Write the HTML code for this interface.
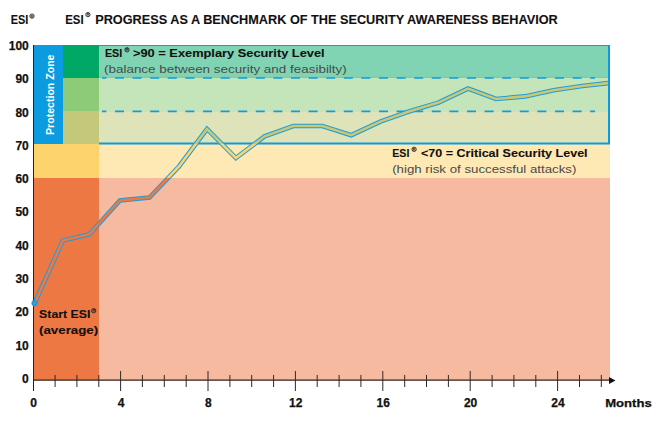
<!DOCTYPE html>
<html><head><meta charset="utf-8"><style>
html,body{margin:0;padding:0;background:#fff;width:661px;height:422px;overflow:hidden}
svg{display:block}
text{font-family:"Liberation Sans", sans-serif}
</style></head><body>
<svg width="661" height="422" viewBox="0 0 661 422">
<defs>
<clipPath id="cOr"><rect x="0" y="178" width="661" height="422"/></clipPath>
<clipPath id="cYe"><rect x="0" y="144" width="661" height="34"/></clipPath>
<clipPath id="cKh"><rect x="0" y="0" width="661" height="144"/></clipPath>
<clipPath id="cPlot"><rect x="30" y="0" width="578" height="422"/></clipPath>
</defs>

<rect x="99" y="45" width="511" height="33" fill="#80D4B3"/>
<rect x="99" y="78" width="511" height="33" fill="#C4E4BA"/>
<rect x="99" y="111" width="511" height="33" fill="#DEE3BA"/>
<rect x="99" y="144" width="511" height="34" fill="#FEE8B4"/>
<rect x="99" y="178" width="511" height="202" fill="#F6BAA0"/>
<rect x="63" y="45" width="36" height="33" fill="#00A865"/>
<rect x="63" y="78" width="36" height="33" fill="#8DCB78"/>
<rect x="63" y="111" width="36" height="33" fill="#C3C87A"/>
<rect x="34" y="144" width="65" height="34" fill="#FDD36B"/>
<rect x="34" y="178" width="65" height="202" fill="#EE7844"/>
<rect x="34" y="45" width="29" height="99" fill="#0A9BE0"/>
<path d="M99 45.5 H609 V143.5 H99" fill="none" stroke="#0A9BE0" stroke-width="1"/>
<rect x="608" y="45" width="2" height="99" fill="#0A9BE0"/>
<rect x="99" y="142.5" width="511" height="2" fill="#0A9BE0"/>
<rect x="99" y="110.8" width="509" height="1.2" fill="#D6D9C6"/>
<rect x="99" y="76.8" width="509" height="1" fill="#72CEA8"/>
<line x1="102" y1="78" x2="595" y2="78" stroke="#139CDD" stroke-width="1.7" stroke-dasharray="9 8.6" stroke-dashoffset="4.6"/>
<line x1="102" y1="111.3" x2="595" y2="111.3" stroke="#139CDD" stroke-width="1.7" stroke-dasharray="9 8.6" stroke-dashoffset="4.6"/>
<g clip-path="url(#cPlot)" fill="none" stroke-linejoin="miter" stroke-linecap="butt">
<polyline points="34.6,303.2 62.8,240.6 89.5,234.2 119.9,200.4 149.5,197.5 179.0,166.5 207.0,129.0 235.9,158.0 264.6,136.3 293.3,126.0 322.4,126.0 351.3,135.2 380.3,121.6 408.9,111.5 438.5,102.6 468.0,88.6 496.0,99.0 525.0,96.4 553.5,90.2 582.3,86.0 611.2,82.8" stroke="#1E9DDA" stroke-width="4.6"/>
<polyline points="34.6,303.2 62.8,240.6 89.5,234.2 119.9,200.4 149.5,197.5 179.0,166.5 207.0,129.0 235.9,158.0 264.6,136.3 293.3,126.0 322.4,126.0 351.3,135.2 380.3,121.6 408.9,111.5 438.5,102.6 468.0,88.6 496.0,99.0 525.0,96.4 553.5,90.2 582.3,86.0 611.2,82.8" stroke="#EE7844" stroke-width="2.6" clip-path="url(#cOr)"/>
<polyline points="34.6,303.2 62.8,240.6 89.5,234.2 119.9,200.4 149.5,197.5 179.0,166.5 207.0,129.0 235.9,158.0 264.6,136.3 293.3,126.0 322.4,126.0 351.3,135.2 380.3,121.6 408.9,111.5 438.5,102.6 468.0,88.6 496.0,99.0 525.0,96.4 553.5,90.2 582.3,86.0 611.2,82.8" stroke="#FDD36B" stroke-width="2.6" clip-path="url(#cYe)"/>
<polyline points="34.6,303.2 62.8,240.6 89.5,234.2 119.9,200.4 149.5,197.5 179.0,166.5 207.0,129.0 235.9,158.0 264.6,136.3 293.3,126.0 322.4,126.0 351.3,135.2 380.3,121.6 408.9,111.5 438.5,102.6 468.0,88.6 496.0,99.0 525.0,96.4 553.5,90.2 582.3,86.0 611.2,82.8" stroke="#CBC873" stroke-width="2.6" clip-path="url(#cKh)"/>
</g>
<line x1="33.5" y1="45" x2="33.5" y2="391" stroke="#222" stroke-width="1"/>
<line x1="33.2" y1="380.2" x2="610" y2="380.2" stroke="#3a1e14" stroke-width="1.2"/>
<path d="M609 377 L615.5 380.5 L609 384 Z" fill="#111"/>
<line x1="55.1" y1="375" x2="55.1" y2="387" stroke="#2b2b2b" stroke-width="1"/>
<line x1="76.9" y1="375" x2="76.9" y2="387" stroke="#2b2b2b" stroke-width="1"/>
<line x1="98.8" y1="375" x2="98.8" y2="387" stroke="#2b2b2b" stroke-width="1"/>
<line x1="120.6" y1="371" x2="120.6" y2="391" stroke="#2b2b2b" stroke-width="1"/>
<line x1="142.4" y1="375" x2="142.4" y2="387" stroke="#2b2b2b" stroke-width="1"/>
<line x1="164.3" y1="375" x2="164.3" y2="387" stroke="#2b2b2b" stroke-width="1"/>
<line x1="186.2" y1="375" x2="186.2" y2="387" stroke="#2b2b2b" stroke-width="1"/>
<line x1="208.0" y1="371" x2="208.0" y2="391" stroke="#2b2b2b" stroke-width="1"/>
<line x1="229.9" y1="375" x2="229.9" y2="387" stroke="#2b2b2b" stroke-width="1"/>
<line x1="251.7" y1="375" x2="251.7" y2="387" stroke="#2b2b2b" stroke-width="1"/>
<line x1="273.6" y1="375" x2="273.6" y2="387" stroke="#2b2b2b" stroke-width="1"/>
<line x1="295.4" y1="371" x2="295.4" y2="391" stroke="#2b2b2b" stroke-width="1"/>
<line x1="317.2" y1="375" x2="317.2" y2="387" stroke="#2b2b2b" stroke-width="1"/>
<line x1="339.1" y1="375" x2="339.1" y2="387" stroke="#2b2b2b" stroke-width="1"/>
<line x1="360.9" y1="375" x2="360.9" y2="387" stroke="#2b2b2b" stroke-width="1"/>
<line x1="382.8" y1="371" x2="382.8" y2="391" stroke="#2b2b2b" stroke-width="1"/>
<line x1="404.7" y1="375" x2="404.7" y2="387" stroke="#2b2b2b" stroke-width="1"/>
<line x1="426.5" y1="375" x2="426.5" y2="387" stroke="#2b2b2b" stroke-width="1"/>
<line x1="448.4" y1="375" x2="448.4" y2="387" stroke="#2b2b2b" stroke-width="1"/>
<line x1="470.2" y1="371" x2="470.2" y2="391" stroke="#2b2b2b" stroke-width="1"/>
<line x1="492.1" y1="375" x2="492.1" y2="387" stroke="#2b2b2b" stroke-width="1"/>
<line x1="513.9" y1="375" x2="513.9" y2="387" stroke="#2b2b2b" stroke-width="1"/>
<line x1="535.8" y1="375" x2="535.8" y2="387" stroke="#2b2b2b" stroke-width="1"/>
<line x1="557.6" y1="371" x2="557.6" y2="391" stroke="#2b2b2b" stroke-width="1"/>
<line x1="579.5" y1="375" x2="579.5" y2="387" stroke="#2b2b2b" stroke-width="1"/>
<line x1="601.3" y1="375" x2="601.3" y2="387" stroke="#2b2b2b" stroke-width="1"/>
<circle cx="34.6" cy="303.2" r="3.1" fill="#1E9DDA"/><circle cx="34.6" cy="303.2" r="0.8" fill="#EE7844"/>
<text x="28.8" y="382.8" text-anchor="end" font-size="12" font-weight="bold" fill="#111" stroke="#111" stroke-width="0.25">0</text>
<text x="28.8" y="349.5" text-anchor="end" font-size="12" font-weight="bold" fill="#111" stroke="#111" stroke-width="0.25">10</text>
<text x="28.8" y="316.2" text-anchor="end" font-size="12" font-weight="bold" fill="#111" stroke="#111" stroke-width="0.25">20</text>
<text x="28.8" y="282.9" text-anchor="end" font-size="12" font-weight="bold" fill="#111" stroke="#111" stroke-width="0.25">30</text>
<text x="28.8" y="249.6" text-anchor="end" font-size="12" font-weight="bold" fill="#111" stroke="#111" stroke-width="0.25">40</text>
<text x="28.8" y="216.3" text-anchor="end" font-size="12" font-weight="bold" fill="#111" stroke="#111" stroke-width="0.25">50</text>
<text x="28.8" y="183.1" text-anchor="end" font-size="12" font-weight="bold" fill="#111" stroke="#111" stroke-width="0.25">60</text>
<text x="28.8" y="149.8" text-anchor="end" font-size="12" font-weight="bold" fill="#111" stroke="#111" stroke-width="0.25">70</text>
<text x="28.8" y="116.5" text-anchor="end" font-size="12" font-weight="bold" fill="#111" stroke="#111" stroke-width="0.25">80</text>
<text x="28.8" y="83.2" text-anchor="end" font-size="12" font-weight="bold" fill="#111" stroke="#111" stroke-width="0.25">90</text>
<text x="28.8" y="49.9" text-anchor="end" font-size="12" font-weight="bold" fill="#111" stroke="#111" stroke-width="0.25">100</text>
<text x="33.6" y="407.1" text-anchor="middle" font-size="12" font-weight="bold" fill="#111" stroke="#111" stroke-width="0.25">0</text>
<text x="121.0" y="407.1" text-anchor="middle" font-size="12" font-weight="bold" fill="#111" stroke="#111" stroke-width="0.25">4</text>
<text x="208.4" y="407.1" text-anchor="middle" font-size="12" font-weight="bold" fill="#111" stroke="#111" stroke-width="0.25">8</text>
<text x="295.8" y="407.1" text-anchor="middle" font-size="12" font-weight="bold" fill="#111" stroke="#111" stroke-width="0.25">12</text>
<text x="383.2" y="407.1" text-anchor="middle" font-size="12" font-weight="bold" fill="#111" stroke="#111" stroke-width="0.25">16</text>
<text x="470.6" y="407.1" text-anchor="middle" font-size="12" font-weight="bold" fill="#111" stroke="#111" stroke-width="0.25">20</text>
<text x="558.0" y="407.1" text-anchor="middle" font-size="12" font-weight="bold" fill="#111" stroke="#111" stroke-width="0.25">24</text>
<text x="605.2" y="407.3" font-size="11.5" font-weight="bold" fill="#111" stroke="#111" stroke-width="0.25" textLength="46.6" lengthAdjust="spacingAndGlyphs">Months</text>
<text x="10.8" y="24.2" font-size="12" font-weight="bold" fill="#111" stroke="#111" stroke-width="0.1" textLength="17.6" lengthAdjust="spacingAndGlyphs">ESI</text>
<circle cx="32" cy="16.1" r="2.15" fill="none" stroke="#222" stroke-width="0.9"/>
<text x="32" y="17.55" text-anchor="middle" font-size="4.2" font-weight="bold" fill="#222">R</text>
<text x="65.2" y="23.6" font-size="12" font-weight="bold" fill="#111" stroke="#111" stroke-width="0.1" textLength="18.4" lengthAdjust="spacingAndGlyphs">ESI</text>
<circle cx="87.9" cy="14.6" r="2.15" fill="none" stroke="#222" stroke-width="0.9"/>
<text x="87.9" y="16.05" text-anchor="middle" font-size="4.2" font-weight="bold" fill="#222">R</text>
<text x="95.2" y="23.6" font-size="12" font-weight="bold" fill="#111" stroke="#111" stroke-width="0.1" textLength="462.6" lengthAdjust="spacingAndGlyphs">PROGRESS AS A BENCHMARK OF THE SECURITY AWARENESS BEHAVIOR</text>
<text transform="translate(53.6,135) rotate(-90)" font-size="10.5" font-weight="bold" fill="#fff" textLength="80.5" lengthAdjust="spacingAndGlyphs">Protection Zone</text>
<text x="104.9" y="57.0" font-size="11.2" font-weight="bold" fill="#111" stroke="#111" stroke-width="0.1" textLength="17.3" lengthAdjust="spacingAndGlyphs">ESI</text>
<circle cx="127" cy="49.8" r="2.15" fill="none" stroke="#222" stroke-width="0.9"/>
<text x="127" y="51.25" text-anchor="middle" font-size="4.2" font-weight="bold" fill="#222">R</text>
<text x="133.0" y="57.0" font-size="11.2" font-weight="bold" fill="#111" stroke="#111" stroke-width="0.1" textLength="191.6" lengthAdjust="spacingAndGlyphs">&gt;90 = Exemplary Security Level</text>
<text x="104.0" y="72.8" font-size="11" fill="#4a4a4a" textLength="242.8" lengthAdjust="spacingAndGlyphs">(balance between security and feasibilty)</text>
<text x="392.3" y="156.9" font-size="11.2" font-weight="bold" fill="#111" stroke="#111" stroke-width="0.1" textLength="17.1" lengthAdjust="spacingAndGlyphs">ESI</text>
<circle cx="414.1" cy="149.3" r="2.15" fill="none" stroke="#222" stroke-width="0.9"/>
<text x="414.1" y="150.75" text-anchor="middle" font-size="4.2" font-weight="bold" fill="#222">R</text>
<text x="421.0" y="156.9" font-size="11.2" font-weight="bold" fill="#111" stroke="#111" stroke-width="0.1" textLength="166.6" lengthAdjust="spacingAndGlyphs">&lt;70 = Critical Security Level</text>
<text x="392.2" y="172.8" font-size="11" fill="#4a4a4a" textLength="184.2" lengthAdjust="spacingAndGlyphs">(high risk of successful attacks)</text>
<text x="39.1" y="318" font-size="11.5" font-weight="bold" fill="#111" stroke="#111" stroke-width="0.1" textLength="51.3" lengthAdjust="spacingAndGlyphs">Start ESI</text>
<circle cx="93.7" cy="310.7" r="2.15" fill="none" stroke="#222" stroke-width="0.9"/>
<text x="93.7" y="312.15" text-anchor="middle" font-size="4.2" font-weight="bold" fill="#222">R</text>
<text x="39" y="333.6" font-size="11.5" font-weight="bold" fill="#111" stroke="#111" stroke-width="0.1" textLength="59.2" lengthAdjust="spacingAndGlyphs">(average)</text>
</svg></body></html>
